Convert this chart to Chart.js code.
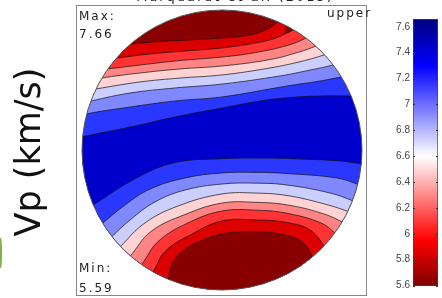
<!DOCTYPE html>
<html>
<head>
<meta charset="utf-8">
<script src="https://cdn.jsdelivr.net/npm/chart.js@4.4.0/dist/chart.umd.min.js"></script>
<style>
  html, body { margin: 0; padding: 0; background: #fff; }
  body { width: 442px; height: 298px; position: relative; overflow: hidden; font-family: "DejaVu Sans", sans-serif; }
  canvas { position: absolute; top: 0; }
  #pole { left: 0; }
  #cbar { left: 370px; }
  .txt { position: absolute; font-size: 12px; letter-spacing: 2px; color: #222; white-space: nowrap; }
  #title { left: 85px; width: 300px; text-align: center; top: -11px; font-size: 13px; line-height: 15px; }
  #maxTxt { left: 79px; top: 7px; line-height: 18px; }
  #minTxt { left: 79px; top: 258px; line-height: 20px; }
  #upper { left: 327px; top: 4px; line-height: 18px; }
  #vp { position: absolute; left: -72px; top: 132px; width: 200px; height: 40px; line-height: 40px; text-align: center;
        font-size: 35px; color: #111; transform: rotate(-90deg); white-space: nowrap; }
  #leaf { position: absolute; left: 0; top: 238px; width: 2px; height: 30px; background: #7cb342; border-radius: 0 100% 100% 0; }
</style>
</head>
<body>
<canvas id="pole" width="442" height="298"></canvas>
<canvas id="cbar" width="72" height="298"></canvas>
<div id="leaf"></div>
<div id="vp">Vp (km/s)</div>
<div class="txt" id="title">Marquardt et al. (2015)</div>
<div class="txt" id="maxTxt">Max:<br>7.66</div>
<div class="txt" id="minTxt">Min:<br>5.59</div>
<div class="txt" id="upper">upper</div>
<script>
// colour of each band, from the top band down to the middle (deep blue)
const bandColors = ['#880000', '#dd0000', '#ff3333', '#ff8585', '#ffd3d3', '#cbcfff', '#8088ff', '#2a38ff', '#0000cc'];

// contour lines in the unit circle (x, y), top half read top -> middle
const upperContours = [
  [[-0.73,0.75],[-0.65,0.757],[-0.443,0.775],[-0.229,0.786],[0,0.8],[0.179,0.818],[0.293,0.85],[0.379,0.9],[0.45,0.971]],
  [[-0.836,0.65],[-0.757,0.657],[-0.514,0.686],[-0.264,0.707],[0,0.729],[0.221,0.761],[0.364,0.793],[0.45,0.829],[0.507,0.857],[0.593,0.914]],
  [[-0.907,0.571],[-0.821,0.579],[-0.586,0.607],[-0.3,0.639],[0,0.664],[0.221,0.693],[0.464,0.746],[0.6,0.8],[0.686,0.857]],
  [[-0.943,0.5],[-0.864,0.514],[-0.586,0.55],[-0.3,0.579],[0,0.6],[0.343,0.646],[0.55,0.7],[0.671,0.743],[0.757,0.786]],
  [[-0.979,0.421],[-0.9,0.436],[-0.586,0.486],[-0.3,0.514],[0,0.536],[0.343,0.586],[0.55,0.629],[0.729,0.679],[0.814,0.714]],
  [[-1.014,0.329],[-0.936,0.35],[-0.657,0.407],[-0.336,0.443],[0,0.471],[0.414,0.529],[0.629,0.571],[0.793,0.607],[0.879,0.636]],
  [[-1.05,0.229],[-0.971,0.257],[-0.657,0.307],[-0.336,0.35],[0,0.379],[0.464,0.457],[0.7,0.493],[0.85,0.521],[0.95,0.543]],
  [[-1.086,0.071],[-0.995,0.095],[-0.657,0.164],[-0.336,0.236],[0,0.3],[0.271,0.35],[0.486,0.375],[0.7,0.386],[0.914,0.386],[1.057,0.386]]
];

// bottom half, read middle -> bottom
const lowerContours = [
  [[-1.014,-0.443],[-0.918,-0.391],[-0.636,-0.214],[-0.35,-0.093],[0,-0.062],[0.3,-0.058],[0.557,-0.064],[0.843,-0.079],[1.0,-0.1],[1.093,-0.114]],
  [[-0.929,-0.586],[-0.85,-0.521],[-0.693,-0.393],[-0.514,-0.279],[-0.264,-0.2],[0,-0.164],[0.25,-0.16],[0.464,-0.168],[0.821,-0.2],[0.971,-0.246],[1.057,-0.286]],
  [[-0.871,-0.7],[-0.786,-0.618],[-0.657,-0.5],[-0.479,-0.371],[-0.264,-0.286],[0,-0.243],[0.25,-0.237],[0.464,-0.25],[0.771,-0.307],[0.929,-0.361],[1.021,-0.407]],
  [[-0.8,-0.771],[-0.725,-0.689],[-0.55,-0.521],[-0.314,-0.4],[0,-0.314],[0.25,-0.308],[0.464,-0.325],[0.707,-0.379],[0.9,-0.439],[0.986,-0.486]],
  [[-0.729,-0.829],[-0.661,-0.764],[-0.507,-0.582],[-0.264,-0.461],[0,-0.379],[0.25,-0.374],[0.464,-0.392],[0.707,-0.45],[0.857,-0.514],[0.929,-0.571]],
  [[-0.657,-0.9],[-0.575,-0.818],[-0.457,-0.654],[-0.243,-0.521],[0,-0.436],[0.25,-0.43],[0.464,-0.452],[0.707,-0.521],[0.807,-0.593],[0.879,-0.664]],
  [[-0.564,-0.957],[-0.493,-0.871],[-0.407,-0.725],[-0.221,-0.604],[0,-0.507],[0.25,-0.5],[0.464,-0.518],[0.629,-0.571],[0.729,-0.686],[0.771,-0.771]],
  [[-0.443,-1.036],[-0.386,-0.929],[-0.361,-0.821],[-0.268,-0.711],[-0.125,-0.639],[0,-0.6],[0.221,-0.582],[0.464,-0.611],[0.579,-0.664],[0.646,-0.761],[0.686,-0.871]]
];

// colour bar
const cbarMin = 5.597, cbarMax = 7.66;
const cbarTicks = [5.6, 5.8, 6.0, 6.2, 6.4, 6.6, 6.8, 7.0, 7.2, 7.4, 7.6];
const cmapValues = [5.597, 5.95, 6.6, 7.3, 7.66];
const cmapColors = ['#7f0000', '#ff0000', '#ffffff', '#0000ff', '#00007f'];

const lim = 145 / 140;

function band(pts, color) {
  return {
    data: pts.map(([x, y]) => ({ x, y })),
    fill: 'start',
    backgroundColor: color,
    borderColor: '#111',
    borderWidth: 0.7,
    pointRadius: 0,
    tension: 0.4
  };
}

const datasets = [];
upperContours.forEach((pts, i) => datasets.push(band(pts, bandColors[i + 1])));
lowerContours.forEach((pts, i) => datasets.push(band(pts, bandColors[7 - i])));
// first dataset underneath, last one on top
datasets.forEach((d, i) => { d.order = datasets.length - i; });

const circleClip = {
  id: 'circleClip',
  beforeDatasetsDraw(chart) {
    const { ctx, scales: { x, y } } = chart;
    const cx = x.getPixelForValue(0), cy = y.getPixelForValue(0);
    const r = x.getPixelForValue(1) - cx;
    ctx.save();
    ctx.beginPath();
    ctx.arc(cx, cy, r, 0, Math.PI * 2);
    ctx.clip();
    ctx.fillStyle = bandColors[0];
    ctx.fill();
  },
  afterDatasetsDraw(chart) {
    const { ctx, chartArea: a, scales: { x, y } } = chart;
    ctx.restore();
    const cx = x.getPixelForValue(0), cy = y.getPixelForValue(0);
    const r = x.getPixelForValue(1) - cx;
    ctx.save();
    ctx.beginPath();
    ctx.arc(cx, cy, r, 0, Math.PI * 2);
    ctx.strokeStyle = '#555';
    ctx.lineWidth = 1;
    ctx.stroke();
    ctx.strokeStyle = '#888';
    ctx.strokeRect(a.left - 0.5, a.top + 0.5, a.width, a.height);
    ctx.restore();
  }
};

new Chart(document.getElementById('pole'), {
  type: 'line',
  data: { datasets },
  options: {
    responsive: false,
    animation: false,
    events: [],
    layout: { padding: { left: 77, top: 5, right: 75, bottom: 3 } },
    plugins: { legend: { display: false }, tooltip: { enabled: false } },
    scales: {
      x: { type: 'linear', min: -lim, max: lim, display: false },
      y: { type: 'linear', min: -lim, max: lim, display: false }
    }
  },
  plugins: [circleClip]
});

function cbarGradient(c) {
  const { chart } = c;
  const { ctx, chartArea, scales } = chart;
  if (!chartArea) return null;
  const y = scales.y;
  const top = y.getPixelForValue(cbarMax), bot = y.getPixelForValue(cbarMin);
  const g = ctx.createLinearGradient(0, bot, 0, top);
  cmapValues.forEach((v, i) => {
    g.addColorStop((v - cbarMin) / (cbarMax - cbarMin), cmapColors[i]);
  });
  return g;
}

// small inward tick marks on both sides of the colour bar
const innerTicks = {
  id: 'innerTicks',
  afterDatasetsDraw(chart) {
    const { ctx, chartArea: a, scales: { y } } = chart;
    ctx.save();
    ctx.strokeStyle = '#333';
    ctx.lineWidth = 1;
    y.ticks.forEach(t => {
      const py = Math.round(y.getPixelForValue(t.value)) + 0.5;
      ctx.beginPath();
      ctx.moveTo(a.left, py); ctx.lineTo(a.left + 2, py);
      ctx.moveTo(a.right - 2, py); ctx.lineTo(a.right, py);
      ctx.stroke();
    });
    ctx.restore();
  }
};

new Chart(document.getElementById('cbar'), {
  type: 'bar',
  data: {
    labels: [''],
    datasets: [{
      data: [[cbarMin, cbarMax]],
      backgroundColor: cbarGradient,
      borderColor: '#444',
      borderWidth: 1,
      borderSkipped: false,
      barPercentage: 1,
      categoryPercentage: 1
    }]
  },
  options: {
    responsive: false,
    animation: false,
    events: [],
    layout: { padding: { top: 19, bottom: 12, right: 4, left: 0 } },
    plugins: { legend: { display: false }, tooltip: { enabled: false } },
    scales: {
      x: { display: false },
      y: {
        min: cbarMin,
        max: cbarMax,
        afterBuildTicks: s => { s.ticks = cbarTicks.map(v => ({ value: v })); },
        afterFit: s => { s.width = 43; },
        grid: { display: true, drawOnChartArea: false, drawTicks: false },
        border: { display: false },
        ticks: {
          padding: 3,
          color: '#444',
          font: { family: '"Liberation Sans Narrow", "Liberation Sans", sans-serif', size: 10 },
          callback: v => String(+(+v).toFixed(1))
        }
      }
    }
  },
  plugins: [innerTicks]
});
</script>
</body>
</html>
